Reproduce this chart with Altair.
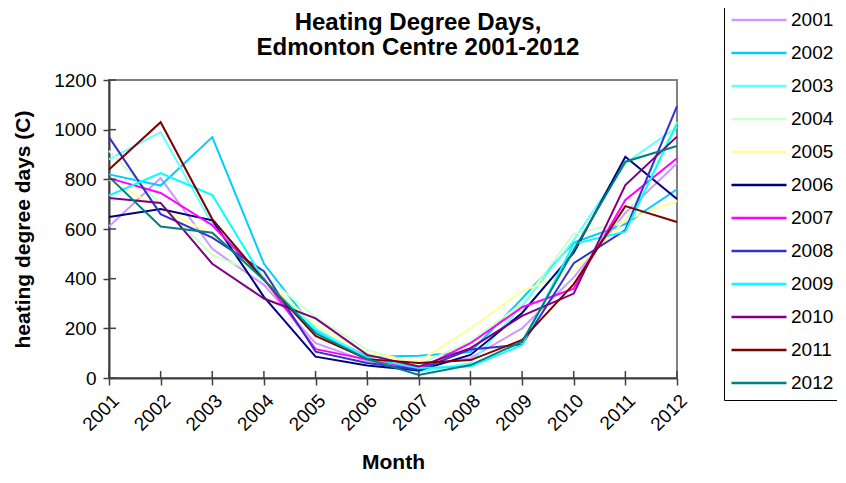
import altair as alt
import pandas as pd

months = ["2001", "2002", "2003", "2004", "2005", "2006",
          "2007", "2008", "2009", "2010", "2011", "2012"]

years = ["2001", "2002", "2003", "2004", "2005", "2006",
         "2007", "2008", "2009", "2010", "2011", "2012"]

colors = ["#CC99FF", "#00CCFF", "#66FFFF", "#CCFFCC", "#FFFF99", "#000080",
          "#FF00FF", "#3333CC", "#00FFFF", "#800080", "#800000", "#008080"]

y_ticks = [0, 200, 400, 600, 800, 1000, 1200]

title_lines = ["Heating Degree Days,", "Edmonton Centre 2001-2012"]

s2001 = [610, 805, 520, 375, 140, 68, 45, 80, 200, 405, 665, 865]
s2002 = [820, 775, 970, 460, 193, 86, 90, 105, 320, 545, 620, 760]
s2003 = [880, 990, 620, 400, 200, 80, 25, 60, 290, 555, 865, 1010]
s2004 = [915, 700, 495, 415, 245, 113, 55, 146, 300, 580, 630, 1030]
s2005 = [800, 680, 580, 400, 213, 100, 66, 200, 350, 430, 636, 713]
s2006 = [648, 680, 635, 327, 86, 50, 30, 93, 262, 505, 891, 721]
s2007 = [805, 745, 615, 400, 116, 75, 36, 140, 285, 360, 717, 885]
s2008 = [970, 660, 565, 430, 106, 60, 33, 115, 135, 462, 596, 1095]
s2009 = [735, 825, 737, 395, 185, 80, 40, 46, 133, 540, 589, 1025]
s2010 = [725, 705, 460, 320, 240, 93, 46, 120, 250, 340, 777, 972]
s2011 = [840, 1030, 640, 395, 169, 76, 60, 72, 153, 378, 692, 628]
s2012 = [810, 610, 585, 395, 180, 76, 12, 52, 146, 515, 871, 934]

series = [s2001, s2002, s2003, s2004, s2005, s2006,
          s2007, s2008, s2009, s2010, s2011, s2012]

rows = []
for yi, (yr, vals) in enumerate(zip(years, series)):
    for m, v in zip(months, vals):
        rows.append({"Year": yr, "Month": m, "HDD": v, "order": yi})
df = pd.DataFrame(rows)

FONT = "Liberation Sans"
AXIS_COLOR = "#404040"
W, H = 568, 298

x_enc = alt.X("Month:N", sort=months,
              scale=alt.Scale(type="point", padding=0),
              axis=alt.Axis(title="Month", labelAngle=-45, labelFontSize=19,
                            labelFont=FONT, labelColor="black",
                            titleFont=FONT, titleFontSize=21, titleFontWeight="bold",
                            titleColor="black", titlePadding=17,
                            tickSize=7, tickColor=AXIS_COLOR, tickWidth=1.5,
                            domainColor=AXIS_COLOR, domainWidth=2,
                            labelPadding=6, grid=False))

y_enc = alt.Y("HDD:Q", scale=alt.Scale(domain=[0, 1200], nice=False),
              axis=alt.Axis(title="heating degree days (C)", format="d",
                            values=y_ticks,
                            labelFontSize=19, labelFont=FONT, labelColor="black",
                            titleFont=FONT, titleFontSize=21, titleFontWeight="bold",
                            titleColor="black", titlePadding=20,
                            tickSize=6, tickColor=AXIS_COLOR, tickWidth=1.5,
                            domainColor=AXIS_COLOR, domainWidth=2,
                            labelPadding=7, grid=False))

lines = alt.Chart(df).mark_line(strokeWidth=2).encode(
    x=x_enc,
    y=y_enc,
    color=alt.Color("Year:N", sort=years,
                    scale=alt.Scale(domain=years, range=colors),
                    legend=alt.Legend(title=None, orient="none",
                                      legendX=615, legendY=-77,
                                      symbolType="M-1.667,0H1.667",
                                      symbolSize=1089, clipHeight=26,
                                      symbolStrokeWidth=2.5, symbolOffset=13,
                                      labelFont=FONT, labelFontSize=19,
                                      labelColor="black", labelOffset=14,
                                      rowPadding=7, padding=4,
                                      strokeColor="black", fillColor="white")),
    order=alt.Order("order:Q"),
)

# inward halves of the crossing tick marks
ytick_df = pd.DataFrame({"v": y_ticks})
ytick_in = alt.Chart(ytick_df).mark_rule(color=AXIS_COLOR, strokeWidth=1.5).encode(
    y=alt.Y("v:Q"),
    x=alt.value(0),
    x2=alt.value(7),
)
xtick_df = pd.DataFrame({"Month": months})
xtick_in = alt.Chart(xtick_df).mark_rule(color=AXIS_COLOR, strokeWidth=1.5).encode(
    x=alt.X("Month:N", sort=months),
    y=alt.value(H - 7),
    y2=alt.value(H),
)

title_df = pd.DataFrame({"t": ["\n".join(title_lines)]})
title = alt.Chart(title_df).mark_text(
    font=FONT, fontSize=24, fontWeight="bold", color="black",
    align="center", baseline="alphabetic", lineBreak="\n", lineHeight=25,
).encode(
    text="t:N",
    x=alt.value(309),
    y=alt.value(-50),
)

chart = alt.layer(lines, ytick_in, xtick_in, title).properties(
    width=W,
    height=H,
    autosize=alt.AutoSizeParams(type="none"),
    padding={"left": 101, "top": 72, "right": 160, "bottom": 97},
).configure_view(
    stroke="#808080", strokeWidth=2
)

chart.save("out.html", embed_options={"renderer": "svg", "actions": False})
